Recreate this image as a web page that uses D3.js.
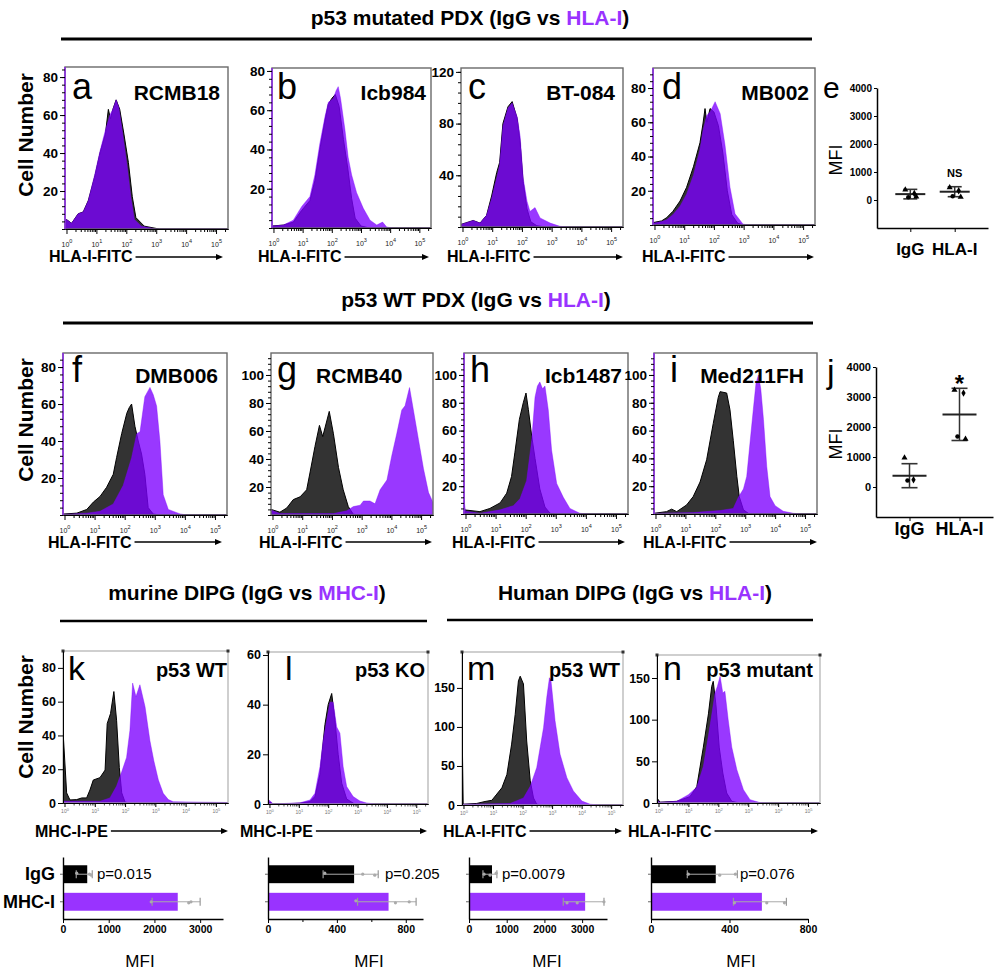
<!DOCTYPE html>
<html><head><meta charset="utf-8">
<script src="https://cdn.jsdelivr.net/npm/d3@7"></script>
<style>
body{margin:0;background:#fff}
svg{display:block}
text{font-family:'Liberation Sans',Arial,Helvetica,sans-serif}
</style>
</head><body>
<svg id="c" width="1000" height="972"></svg>
<script>
// ---------------- DATA ----------------
// histogram curves: [log10 fluorescence, cell count]
const aIgG=[[-0.05,4],[0.0,5],[0.17,3],[0.39,8],[0.56,9],[0.73,15],[0.95,28],[1.12,40],[1.3,50],[1.4,63],[1.47,58],[1.55,63],[1.66,68],[1.78,63],[1.92,50],[2.07,35],[2.2,17],[2.32,6],[2.6,1.5],[3.1,0],[5.4,0]];
const aHLA=[[-0.05,4],[0.0,5],[0.17,3],[0.39,8],[0.56,9],[0.73,15],[0.95,29],[1.12,41],[1.3,52],[1.45,60],[1.55,63],[1.66,68],[1.75,64],[1.88,50],[2.02,34],[2.15,17],[2.27,5],[2.5,1.5],[3.0,0],[5.4,0]];
const bIgG=[[-0.05,1],[0.34,1.5],[0.68,3],[0.97,9],[1.25,14],[1.42,24],[1.59,40],[1.77,55],[1.88,63],[2.0,66],[2.12,68],[2.25,62],[2.4,45],[2.55,30],[2.68,15],[2.8,5],[3.0,1],[3.3,0],[5.4,0]];
const bHLA=[[-0.05,1],[0.34,1.5],[0.68,4],[0.97,11],[1.25,16],[1.42,27],[1.59,43],[1.77,57],[1.88,64],[2.05,66],[2.15,70],[2.22,72],[2.3,66],[2.45,50],[2.56,36],[2.68,27],[2.85,18],[3.08,10],[3.31,4],[3.54,1.5],[3.74,3],[3.88,0.5],[4.1,0],[5.4,0]];
const cIgG=[[-0.05,2],[0.36,5],[0.59,3],[0.81,9],[0.98,24],[1.15,42],[1.25,50],[1.36,80],[1.53,93],[1.67,97],[1.84,84],[1.94,65],[2.04,35],[2.17,14],[2.3,4],[2.5,1],[2.8,0],[5.4,0]];
const cHLA=[[-0.05,2],[0.36,5],[0.59,3],[0.81,9],[0.98,22],[1.15,38],[1.25,48],[1.36,78],[1.53,92],[1.67,96],[1.84,85],[1.94,70],[2.04,38],[2.17,20],[2.27,12],[2.44,15],[2.61,7],[2.95,3],[3.28,0.5],[3.6,0],[5.4,0]];
const dIgG=[[-0.05,1.4],[0.24,2.4],[0.41,4.3],[0.62,8],[0.86,14],[1.08,22],[1.31,34],[1.53,48],[1.63,59],[1.7,68],[1.76,60],[1.87,68],[2.0,66],[2.15,58],[2.3,42],[2.45,20],[2.6,6],[2.8,1],[3.0,0],[5.4,0]];
const dHLA=[[-0.05,1],[0.24,2],[0.41,3],[0.62,6],[0.86,11],[1.08,18],[1.31,29],[1.53,44],[1.63,55],[1.76,64],[1.87,66],[2.04,72],[2.21,65],[2.37,47],[2.54,22],[2.71,6.5],[2.98,0.5],[3.2,0],[5.4,0]];
const fIgG=[[-0.05,0.5],[0.41,1],[0.74,3],[0.96,7],[1.18,10],[1.4,15],[1.62,22],[1.73,31],[1.9,44],[2.07,55],[2.15,58],[2.23,60],[2.34,48],[2.45,40],[2.56,33],[2.67,22],[2.78,4],[2.95,0.5],[3.2,0],[5.4,0]];
const fHLA=[[-0.05,0.3],[0.74,1],[1.18,2],[1.62,6],[1.95,16],[2.23,31],[2.4,44],[2.51,45],[2.67,64],[2.84,69],[2.95,65],[3.06,59],[3.17,40],[3.28,11],[3.45,3],[3.84,0.6],[4.06,0],[5.4,0]];
const gIgG=[[-0.05,4],[0.25,2],[0.48,5],[0.7,11],[0.93,13],[1.15,18],[1.26,30],[1.43,49],[1.58,64],[1.69,56],[1.8,65],[1.91,74],[2.05,58],[2.22,34],[2.38,18],[2.55,6],[2.72,0.5],[3.0,0],[5.4,0]];
const gHLA=[[-0.05,3.6],[0.25,1],[2.05,1],[2.5,3],[2.72,6],[2.95,7],[3.06,10],[3.28,10],[3.45,8],[3.62,18],[3.85,25],[4.01,42],[4.18,58],[4.35,75],[4.46,78],[4.61,91],[4.74,75],[4.91,54],[5.08,33],[5.25,16],[5.4,9]];
const hIgG=[[-0.05,3],[0.48,1.7],[0.81,4],[1.15,8],[1.37,15],[1.53,27],[1.64,44],[1.79,68],[1.92,80],[2.01,87],[2.09,75],[2.2,56],[2.31,40],[2.47,18],[2.64,5],[2.81,0.5],[3.0,0],[5.4,0]];
const hHLA=[[-0.05,10],[0.0,2],[0.48,0.5],[1.15,3],[1.59,6],[1.81,11],[2.03,24],[2.2,53],[2.31,84],[2.39,92],[2.47,95],[2.56,90],[2.64,92],[2.75,75],[2.86,46],[3.03,22],[3.25,12],[3.47,4],[3.8,0.5],[4.1,0],[5.4,0]];
const iIgG=[[-0.05,0.5],[0.37,1.7],[0.54,3.5],[0.71,1.7],[1.04,6.5],[1.26,12.5],[1.49,23],[1.71,39],[1.93,65],[2.1,84],[2.16,88],[2.38,87],[2.49,75],[2.6,53],[2.72,27],[2.8,12.5],[2.94,3],[3.1,0.5],[3.3,0],[5.4,0]];
const iHLA=[[-0.05,0.5],[1.26,1],[2.16,2.5],[2.6,4],[2.77,12],[2.94,18],[3.05,27],[3.16,51],[3.27,75],[3.36,94],[3.44,100],[3.52,90],[3.61,68],[3.72,34],[3.83,12.5],[4.0,6],[4.27,2],[4.61,0.5],[4.9,0],[5.4,0]];
const kIgG=[[-0.05,43],[0.07,6],[0.18,1.8],[0.4,2],[0.57,3],[0.73,3],[0.84,7.7],[0.95,13.6],[1.17,15],[1.34,19.5],[1.41,47],[1.52,53],[1.63,66],[1.72,49],[1.81,21],[1.89,6],[2.0,0.5],[2.2,0],[5.4,0]];
const kMHC=[[-0.05,1],[1.17,1],[1.5,3],[1.72,10],[1.89,18.5],[2.05,27],[2.16,43],[2.25,71],[2.36,63],[2.49,70],[2.66,57],[2.82,37],[2.95,25],[3.1,13.6],[3.26,5.7],[3.43,2],[3.59,0.8],[4.47,0.5],[5.4,0.3]];
const lIgG=[[-0.05,1],[0.13,0],[1.04,0.3],[1.38,1],[1.55,3],[1.72,12],[1.89,32],[2.0,40],[2.12,44.5],[2.23,33.7],[2.34,20],[2.46,8.4],[2.63,2],[2.9,0],[5.4,0]];
const lMHC=[[-0.05,2],[0.13,0],[1.04,0.5],[1.38,1.6],[1.55,4.3],[1.72,15],[1.83,25.7],[1.95,33.7],[2.06,41],[2.17,41],[2.29,31],[2.4,28.5],[2.51,15],[2.63,7],[2.85,3],[3.08,1.2],[3.31,0.4],[3.6,0],[5.4,0]];
const mIgG=[[-0.05,110],[-0.01,1],[0.45,2],[0.73,4.5],[0.96,6],[1.13,14],[1.3,22],[1.47,39],[1.63,78],[1.75,116],[1.86,159],[1.92,165],[2.03,155],[2.14,82],[2.26,31],[2.37,9],[2.48,1],[2.7,0],[5.4,0]];
const mHLA=[[-0.05,1],[1.58,2],[2.03,9],[2.26,24],[2.48,48],[2.71,99],[2.82,138],[2.91,163],[2.96,160],[3.1,108],[3.27,65],[3.5,35],[3.72,18],[4.01,5],[4.29,1],[4.6,0],[5.4,0]];
const nIgG=[[-0.05,6],[0.05,1],[0.61,2],[1.05,7.6],[1.28,19.6],[1.5,67],[1.67,107],[1.78,140],[1.83,146],[1.92,118],[2.03,67],[2.15,36],[2.28,12],[2.45,2],[2.7,0],[5.4,0]];
const nHLA=[[-0.05,3],[0.05,1],[0.61,2],[1.0,10],[1.28,19],[1.5,44],[1.72,92],[1.89,132],[1.97,140],[2.06,152],[2.15,132],[2.22,134],[2.33,100],[2.45,67],[2.62,40],[2.84,16],[3.06,4],[3.39,0.5],[3.7,0],[5.4,0]];

const decades=[0,1,2,3,4,5];
const sampleNames=["RCMB18","Icb984","BT-084","MB002","DMB006","RCMB40","Icb1487","Med211FH","p53 WT","p53 KO","p53 WT","p53 mutant"];

// MFI dot plots (e, j)
const dotCats=["IgG","HLA-I"];
const eIgG=[370,230,100,120], eHLA=[450,330,130,110];
const eMean=[210,296], eSD=[170,178];
const jIgG=[975,240,220], jHLA=[3230,3130,1680,1600];
const jMean=[377,2420], jSD=[400,870];
const mfiTicks=[0,1000,2000,3000,4000];

// bar charts (k, l, m, n)
const barCats=["IgG","MHC-I"];
const kMean=[530,2510], kLo=[290,1950], kHi=[640,3000], kPts=[[300,580,620],[1930,2750,2800]];
const lMean=[500,700],  lLo=[320,520],  lHi=[640,860],  lPts=[[330,550,620],[510,740,820]];
const mMean=[610,3080], mLo=[370,2500], mHi=[740,3580], mPts=[[400,560,720],[2600,2870,3580]];
const nMean=[330,565],  nLo=[185,420],  nHi=[440,690],  nPts=[[190,350,430],[425,590,680]];
const pValues=["p=0.015","p=0.205","p=0.0079","p=0.076"];

// ---------------- DRAW ----------------
const svg=d3.select('#c');
const defs=svg.append('defs');
const PURPLE='#9933ff';
const FILLP='rgb(124,0,255)';
const fmt=d3.format('d');

function txt(x,y,s,size,weight,anchor,fill){
  return svg.append('text').attr('x',x).attr('y',y).text(s)
    .attr('font-size',size).attr('font-weight',weight||'normal')
    .attr('text-anchor',anchor||'start').attr('fill',fill||'#000');
}
function title(cx,y,pre,hl){
  const t=svg.append('text').attr('x',cx).attr('y',y).attr('text-anchor','middle')
    .attr('font-size',21).attr('font-weight','bold');
  t.append('tspan').text(pre);
  t.append('tspan').attr('fill',PURPLE).text(hl);
  t.append('tspan').text(')');
}
function hline(x1,x2,y,w){svg.append('line').attr('x1',x1).attr('x2',x2).attr('y1',y).attr('y2',y).attr('stroke','#000').attr('stroke-width',w);}
function arrow(x1,x2,y){
  svg.append('line').attr('x1',x1).attr('x2',x2-5).attr('y1',y).attr('y2',y).attr('stroke','#000').attr('stroke-width',1.4);
  svg.append('path').attr('d',`M${x2},${y}L${x2-7},${y-3}L${x2-7},${y+3}Z`).attr('fill','#000');
}

title(470,25,'p53 mutated PDX (IgG vs ','HLA-I');
hline(61,812,39,3);
title(476,307,'p53 WT PDX (IgG vs ','HLA-I');
hline(63,813,323,3);
title(247,600,'murine DIPG (IgG vs ','MHC-I');
hline(60,427,621,2.5);
title(635,600,'Human DIPG (IgG vs ','HLA-I');
hline(447,813,620,2.5);

// Cell Number labels
[135,420,717].forEach(cy=>{
  svg.append('text').attr('transform',`translate(33,${cy}) rotate(-90)`).attr('text-anchor','middle')
    .attr('font-size',21).attr('font-weight','bold').text('Cell Number');
});

const rows={1:{let:99,name:100,xl:262,ar:257},2:{let:382,name:383,xl:548,ar:542},3:{let:680,name:677,xl:837,ar:831}};
const HP=[
 {L:'a',ig:aIgG,hl:aHLA,box:[65,67,228,229],yMax:85.3,yt:[20,40,60,80],row:1,nx:220,lx:72,xl:'HLA-I-FITC',xs:49,xe:223,pl:true},
 {L:'b',ig:bIgG,hl:bHLA,box:[272,68,431,228],yMax:81.5,yt:[20,40,60,80],row:1,nx:426,lx:277,xl:'HLA-I-FITC',xs:258,xe:429,pl:true},
 {L:'c',ig:cIgG,hl:cHLA,box:[461,68,623,227],yMax:123,yt:[40,80,120],row:1,nx:615,lx:468,xl:'HLA-I-FITC',xs:447,xe:623},
 {L:'d',ig:dIgG,hl:dHLA,box:[653,68,815,225],yMax:91.7,yt:[20,40,60,80],row:1,nx:809,lx:662,xl:'HLA-I-FITC',xs:642,xe:814,pl:true},
 {L:'f',ig:fIgG,hl:fHLA,box:[63,353,227,515],yMax:87.6,yt:[20,40,60,80],row:2,nx:218,lx:72,xl:'HLA-I-FITC',xs:48,xe:222,pl:true},
 {L:'g',ig:gIgG,hl:gHLA,box:[271,353,433,515],yMax:115.7,yt:[20,40,60,80,100],row:2,nx:316,na:'start',lx:277,xl:'HLA-I-FITC',xs:259,xe:432},
 {L:'h',ig:hIgG,hl:hHLA,box:[464,353,628,514],yMax:115.8,yt:[20,40,60,80,100],row:2,nx:622,lx:470,xl:'HLA-I-FITC',xs:452,xe:625,pl:true},
 {L:'i',ig:iIgG,hl:iHLA,box:[654,353,817,514],yMax:115.8,yt:[20,40,60,80,100],row:2,nx:804,lx:670,xl:'HLA-I-FITC',xs:643,xe:817,pl:true},
 {L:'k',ig:kIgG,hl:kMHC,box:[63,651,228,803],yMax:90,yt:[0,20,40,60,80],row:3,nx:227,lx:68,xl:'MHC-I-PE',xs:35,xe:228},
 {L:'l',ig:lIgG,hl:lMHC,box:[268,652,428,804],yMax:61.2,yt:[0,20,40,60],row:3,nx:425,lx:285,xl:'MHC-I-PE',xs:240,xe:427},
 {L:'m',ig:mIgG,hl:mHLA,box:[462,652,623,805],yMax:196,yt:[0,50,100,150],row:3,nx:620,lx:467,xl:'HLA-I-FITC',xs:443,xe:622},
 {L:'n',ig:nIgG,hl:nHLA,box:[657,655,820,803],yMax:177.6,yt:[0,50,100,150],row:3,nx:813,lx:663,xl:'HLA-I-FITC',xs:628,xe:818}
];

HP.forEach((p,idx)=>{
  const [x0,y0,x1,y1]=p.box;
  const r3=p.row===3;
  const R=rows[p.row];
  const x=d3.scaleLog().domain([Math.pow(10,-0.05),Math.pow(10,5.4)]).range([x0,x1]);
  const y=d3.scaleLinear().domain([0,p.yMax]).range([y1,y0]);
  const cid='clip'+p.L;
  defs.append('clipPath').attr('id',cid).append('rect').attr('x',x0).attr('y',y0).attr('width',x1-x0).attr('height',y1-y0);
  const area=d3.area().x(d=>x(Math.pow(10,d[0]))).y0(y(0)).y1(d=>y(d[1]));
  const g=svg.append('g');
  const cg=g.append('g').attr('clip-path',`url(#${cid})`);
  cg.append('path').datum(p.ig).attr('d',area).attr('fill','#333').attr('stroke','#000').attr('stroke-width',1);
  cg.append('path').datum(p.hl).attr('d',area).attr('fill',FILLP).attr('fill-opacity',0.78)
    .attr('stroke',FILLP).attr('stroke-opacity',0.5).attr('stroke-width',0.8);
  // box
  g.append('rect').attr('x',x0).attr('y',y0).attr('width',x1-x0).attr('height',y1-y0)
    .attr('fill','none').attr('stroke',r3?'#b0b0b0':'#6a6a6a').attr('stroke-width',r3?1.2:1.4);
  if(p.pl) g.append('line').attr('x1',x0).attr('x2',x0).attr('y1',y0).attr('y2',y1).attr('stroke','#8a2be2').attr('stroke-width',1.6);
  if(r3){
    [[x0,y0],[x1,y0]].forEach(c=>g.append('rect').attr('x',c[0]-1.5).attr('y',c[1]-1.5).attr('width',3).attr('height',3).attr('fill','#333'));
  }
  // y axis
  const ya=g.append('g').attr('transform',`translate(${x0},0)`)
    .call(d3.axisLeft(y).tickValues(p.yt).tickSize(5).tickSizeOuter(0).tickPadding(2).tickFormat(fmt));
  ya.select('.domain').attr('stroke',r3?'#000':'none');
  ya.selectAll('text').attr('font-size',r3?12.5:13.5).attr('font-weight','bold').attr('fill','#000');
  if(!r3){
    const st=p.yt[1]-p.yt[0];
    g.append('g').attr('transform',`translate(${x0},0)`)
      .call(d3.axisLeft(y).tickValues(d3.range(0,p.yMax,st/5)).tickSize(3).tickSizeOuter(0).tickFormat(''))
      .select('.domain').remove();
  }
  // x axis
  const minors=[];
  decades.forEach(k=>{for(let m=2;m<=9;m++){const v=m*Math.pow(10,k); if(v<=Math.pow(10,5.4)) minors.push(v);}});
  g.append('g').attr('transform',`translate(0,${y1})`)
    .call(d3.axisBottom(x).tickValues(minors).tickSize(r3?2.5:3).tickSizeOuter(0).tickFormat(''))
    .call(s=>s.selectAll('line').attr('stroke',r3?'#555':'#000'));
  const xa=g.append('g').attr('transform',`translate(0,${y1})`)
    .call(d3.axisBottom(x).tickValues(decades.map(k=>Math.pow(10,k))).tickSize(r3?4:5).tickSizeOuter(0).tickFormat(''));
  xa.select('.domain').attr('stroke','#000').attr('stroke-width',1.2);
  xa.selectAll('.tick').append('text').attr('y',r3?10:18).attr('fill',r3?'#777':'#222')
    .attr('font-size',r3?5:7).attr('text-anchor','middle')
    .each(function(d){
      const t=d3.select(this);
      t.append('tspan').text('10');
      t.append('tspan').attr('dy',r3?-2.5:-4).attr('font-size',r3?4:5.5).text(Math.round(Math.log10(d)));
    });
  // letters and names
  txt(p.lx,R.let,p.L,r3?34:36,'normal','start');
  txt(p.nx,R.name,sampleNames[idx],r3?20:21,'bold',p.na||'end');
  // x label and arrow
  const xl=txt(p.xs,R.xl,p.xl,16,'bold','start');
  const w=xl.node().getComputedTextLength();
  arrow(p.xs+w+3,p.xe,R.ar);
});

// ---- MFI dot plots ----
const syms=[d3.symbolTriangle,d3.symbolDiamond,d3.symbolCircle,d3.symbolTriangle];
const jit=[-5,4,-2,6];
function dotPlot(cfg){
  const y=d3.scaleLinear().domain([-1000,4000]).range([cfg.yb,cfg.yt]);
  const x=d3.scalePoint().domain(dotCats).range([cfg.xa,cfg.xe]).padding(cfg.pad);
  const g=svg.append('g');
  const ya=g.append('g').attr('transform',`translate(${cfg.xa},0)`)
    .call(d3.axisLeft(y).tickValues(mfiTicks).tickSize(3).tickSizeOuter(0).tickPadding(2).tickFormat(fmt));
  ya.select('.domain').attr('stroke-width',1.5);
  ya.selectAll('text').attr('font-size',cfg.tf).attr('font-weight','bold');
  const xa=g.append('g').attr('transform',`translate(0,${cfg.yb})`)
    .call(d3.axisBottom(x).tickSize(4).tickSizeOuter(0).tickFormat(''));
  xa.select('.domain').attr('stroke-width',1.5);
  dotCats.forEach((c,i)=>{
    const cx=x(c);
    const m=cfg.mean[i], s=cfg.sd[i];
    g.append('line').attr('x1',cx).attr('x2',cx).attr('y1',y(m-s)).attr('y2',y(m+s)).attr('stroke','#333').attr('stroke-width',1.5);
    [m-s,m+s].forEach(v=>g.append('line').attr('x1',cx-cfg.cw/2).attr('x2',cx+cfg.cw/2).attr('y1',y(v)).attr('y2',y(v)).attr('stroke','#333').attr('stroke-width',1.6));
    g.append('line').attr('x1',cx-cfg.mw/2).attr('x2',cx+cfg.mw/2).attr('y1',y(m)).attr('y2',y(m)).attr('stroke','#222').attr('stroke-width',2);
    cfg.pts[i].forEach((v,k)=>{
      g.append('path').attr('d',d3.symbol(syms[k%4],16)()).attr('transform',`translate(${cx+jit[k%4]},${y(v)})`).attr('fill','#000');
    });
    txt(cx,cfg.lb,c,cfg.lf,'bold','middle');
  });
  svg.append('text').attr('transform',`translate(${cfg.mx},${(cfg.yb+cfg.yt)/2+2}) rotate(-90)`).attr('text-anchor','middle')
    .attr('font-size',18).text('MFI');
  return {x,y};
}
const E=dotPlot({xa:877,xe:988,yb:228,yt:88,pad:0.75,mean:eMean,sd:eSD,pts:[eIgG,eHLA],cw:14,mw:30,tf:10,lb:255,lf:17,mx:842});
txt(E.x('HLA-I'),177,'NS',11,'bold','middle');
txt(823,98,'e',30,'normal','start');
const J=dotPlot({xa:876,xe:993,yb:517,yt:367,pad:0.67,mean:jMean,sd:jSD,pts:[jIgG,jHLA],cw:16,mw:34,tf:11,lb:535,lf:18,mx:842});
txt(J.x('HLA-I'),392,'*',24,'bold','middle');
txt(827,383,'j',34,'normal','start');

// ---- bar charts ----
const BP=[
 {x0:63,x1:223,max:3500,ticks:[0,1000,2000,3000],minor:[],mean:kMean,lo:kLo,hi:kHi,pts:kPts,px:97,labels:true,mfi:140},
 {x0:268,x1:423,max:900,ticks:[0,400,800],minor:[200,600],mean:lMean,lo:lLo,hi:lHi,pts:lPts,px:385,mfi:369},
 {x0:469,x1:607,max:3660,ticks:[0,1000,2000,3000],minor:[],mean:mMean,lo:mLo,hi:mHi,pts:mPts,px:502,mfi:547},
 {x0:651,x1:808,max:800,ticks:[0,400,800],minor:[],mean:nMean,lo:nLo,hi:nHi,pts:nPts,px:740,mfi:741}
];
BP.forEach((b,bi)=>{
  const x=d3.scaleLinear().domain([0,b.max]).range([b.x0,b.x1]);
  const y=d3.scaleBand().domain(barCats).range([857,919]).paddingInner(0.35).paddingOuter(0.3);
  const g=svg.append('g');
  barCats.forEach((c,i)=>{
    g.append('rect').attr('x',x(0)).attr('y',y(c)).attr('width',x(b.mean[i])-x(0)).attr('height',y.bandwidth())
      .attr('fill',i===0?'#000':PURPLE);
  });
  barCats.forEach((c,i)=>{
    const cy=y(c)+y.bandwidth()/2;
    g.append('line').attr('x1',x(b.lo[i])).attr('x2',x(b.hi[i])).attr('y1',cy).attr('y2',cy).attr('stroke','#aaa').attr('stroke-width',1);
    [b.lo[i],b.hi[i]].forEach(v=>g.append('line').attr('x1',x(v)).attr('x2',x(v)).attr('y1',cy-4).attr('y2',cy+4).attr('stroke','#999').attr('stroke-width',1.2));
    b.pts[i].forEach(v=>g.append('circle').attr('cx',x(v)).attr('cy',cy+((v*7)%3-1)).attr('r',1.6).attr('fill','#aaa'));
  });
  const ya=g.append('g').attr('transform',`translate(${b.x0},0)`)
    .call(d3.axisLeft(y).tickSize(3).tickSizeOuter(0).tickFormat(''));
  ya.select('.domain').attr('stroke-width',1.4);
  ya.selectAll('.tick line').attr('stroke','#666');
  const xa=g.append('g').attr('transform',`translate(0,919)`)
    .call(d3.axisBottom(x).tickValues(b.ticks).tickSize(4).tickSizeOuter(0).tickPadding(3).tickFormat(fmt));
  xa.select('.domain').attr('stroke-width',1.4);
  xa.selectAll('text').attr('font-size',10.5).attr('font-weight','bold').attr('fill','#000');
  if(b.minor.length) g.append('g').attr('transform',`translate(0,919)`)
    .call(d3.axisBottom(x).tickValues(b.minor).tickSize(3).tickFormat('')).select('.domain').remove();
  if(b.labels){
    barCats.forEach(c=>txt(55,y(c)+y.bandwidth()/2+6,c,18,'bold','end'));
  }
  txt(b.px,y('IgG')+y.bandwidth()/2+5,pValues[bi],15,'normal','start');
  txt(b.mfi,967,'MFI',17,'normal','middle');
});
</script>
</body></html>
